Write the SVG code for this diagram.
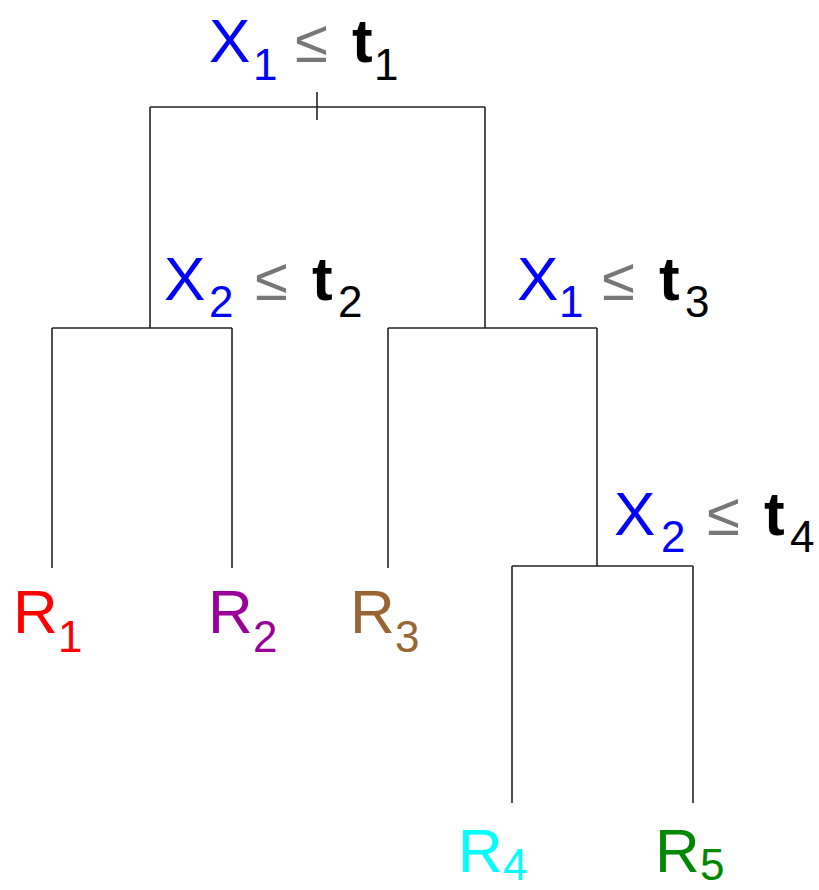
<svg xmlns="http://www.w3.org/2000/svg" width="819" height="890" viewBox="0 0 819 890">
<style>
text{font-family:"Liberation Sans","DejaVu Sans",sans-serif}
.big{font-size:62px}
.sub{font-size:44px}
.le{font-size:60px;fill:#777}
.t{font-size:62px;font-weight:bold;fill:#000}
.b{fill:#0000ff}
.k{fill:#000}
.c line{stroke:#222;stroke-width:1.6;fill:none}
</style>
<rect width="819" height="890" fill="#fff"/>
<g id="connectors" class="c">
<line x1="150" y1="107" x2="485" y2="107"/>
<line x1="317" y1="92" x2="317" y2="120"/>
<line x1="150" y1="107" x2="150" y2="328"/>
<line x1="485" y1="107" x2="485" y2="328"/>
<line x1="52" y1="328" x2="232" y2="328"/>
<line x1="52" y1="328" x2="52" y2="568"/>
<line x1="232" y1="328" x2="232" y2="568"/>
<line x1="388" y1="328" x2="597" y2="328"/>
<line x1="388" y1="328" x2="388" y2="568"/>
<line x1="597" y1="328" x2="597" y2="566"/>
<line x1="512" y1="566" x2="693" y2="566"/>
<line x1="512" y1="566" x2="512" y2="803"/>
<line x1="693" y1="566" x2="693" y2="803"/>
</g>
<g id="split1">
<text><tspan class="big b" x="209" y="62">X</tspan><tspan class="sub b" x="253" y="80">1</tspan><tspan class="le" x="295" y="62">≤</tspan><tspan class="t" x="352" y="62">t</tspan><tspan class="sub k" x="374" y="80">1</tspan></text>
</g>
<g id="split2">
<text><tspan class="big b" x="164" y="300">X</tspan><tspan class="sub b" x="209" y="317">2</tspan><tspan class="le" x="255" y="300">≤</tspan><tspan class="t" x="312" y="300">t</tspan><tspan class="sub k" x="338" y="317">2</tspan></text>
</g>
<g id="split3">
<text><tspan class="big b" x="517" y="300">X</tspan><tspan class="sub b" x="559" y="317">1</tspan><tspan class="le" x="602" y="300">≤</tspan><tspan class="t" x="659" y="300">t</tspan><tspan class="sub k" x="685" y="317">3</tspan></text>
</g>
<g id="split4">
<text><tspan class="big b" x="614" y="535">X</tspan><tspan class="sub b" x="661" y="552">2</tspan><tspan class="le" x="707" y="535">≤</tspan><tspan class="t" x="764" y="535">t</tspan><tspan class="sub k" x="790" y="552">4</tspan></text>
</g>
<g id="R1" fill="#ff0000">
<text><tspan class="big" x="13" y="633">R</tspan><tspan class="sub" x="58" y="652">1</tspan></text>
</g>
<g id="R2" fill="#990099">
<text><tspan class="big" x="208" y="633">R</tspan><tspan class="sub" x="253" y="652">2</tspan></text>
</g>
<g id="R3" fill="#996633">
<text><tspan class="big" x="350" y="633">R</tspan><tspan class="sub" x="395" y="652">3</tspan></text>
</g>
<g id="R4" fill="#00ffff">
<text><tspan class="big" x="458" y="872">R</tspan><tspan class="sub" x="503" y="880">4</tspan></text>
</g>
<g id="R5" fill="#008800">
<text><tspan class="big" x="655" y="872">R</tspan><tspan class="sub" x="700" y="880">5</tspan></text>
</g>
</svg>
